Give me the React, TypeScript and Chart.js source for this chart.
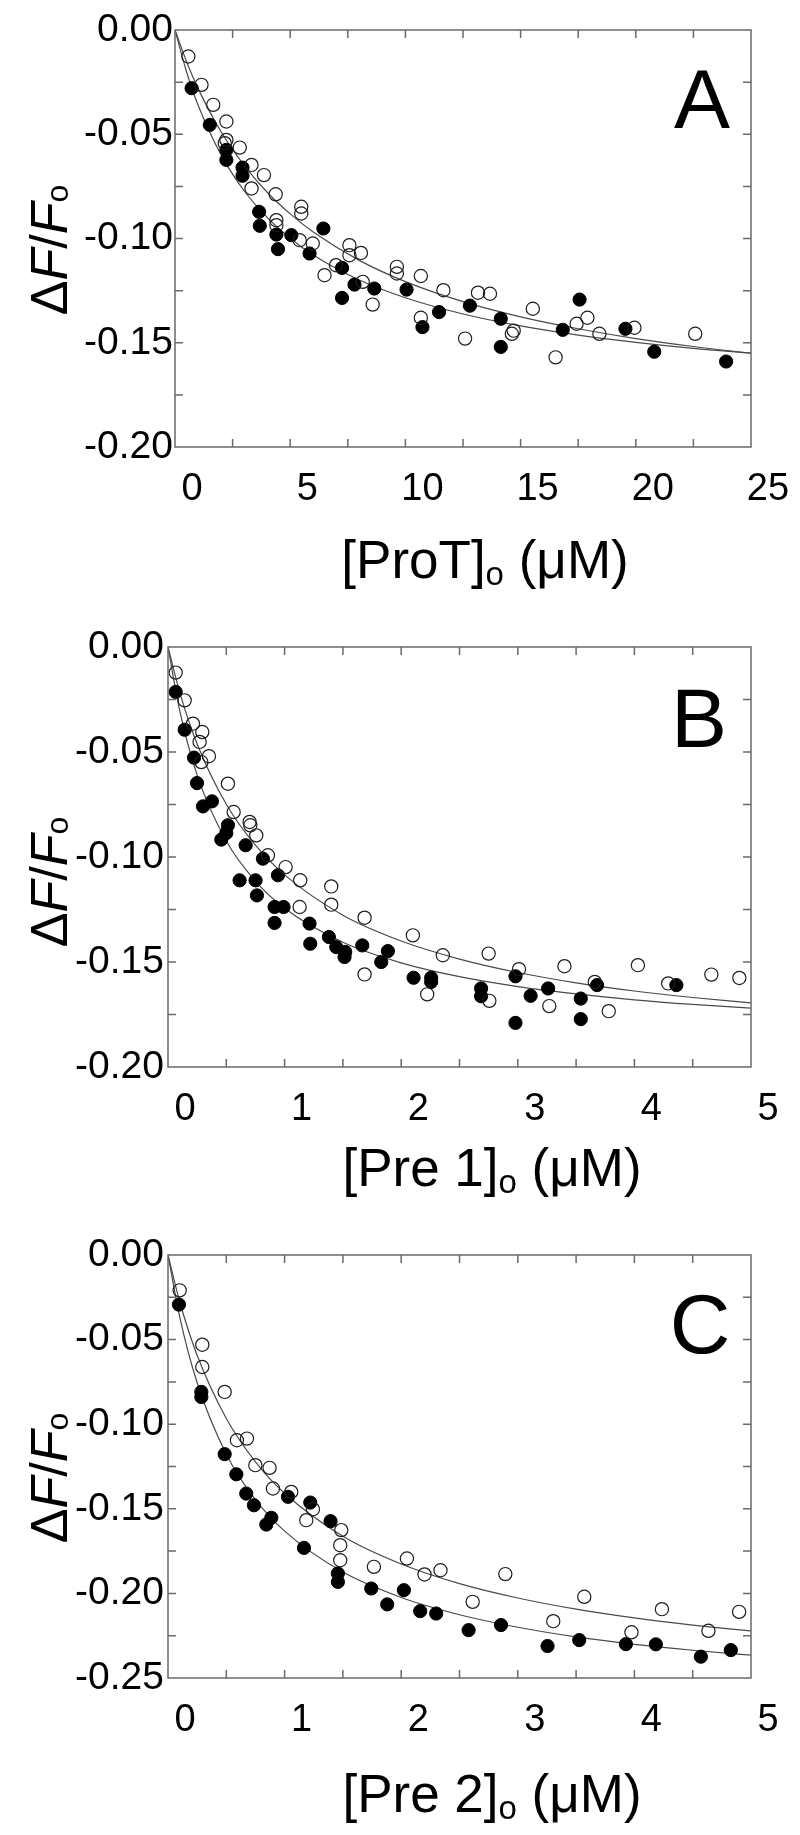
import { useEffect, useRef } from "react";
import { Chart, registerables } from "chart.js";

Chart.register(...registerables);

// ---------------- Panel A : [ProT]o ----------------
const proTOpenX = [0.58, 1.15, 1.66, 2.16, 2.23, 2.23, 2.81, 3.32, 3.32, 3.86, 4.37, 4.4, 4.4, 5.41, 5.48, 5.48, 5.98, 6.49, 6.99, 7.57, 7.57, 8.07, 8.15, 8.58, 9.63, 9.63, 10.67, 10.67, 11.65, 12.59, 13.15, 13.67, 14.62, 14.7, 15.53, 16.52, 17.43, 17.9, 18.42, 19.94, 22.58];
const proTOpenY = [-0.0127, -0.0263, -0.0359, -0.0543, -0.0439, -0.0527, -0.0564, -0.0647, -0.076, -0.0696, -0.0788, -0.0912, -0.0936, -0.1008, -0.0848, -0.088, -0.1024, -0.1176, -0.1128, -0.1032, -0.108, -0.1069, -0.1208, -0.1317, -0.1136, -0.1168, -0.118, -0.138, -0.1248, -0.148, -0.126, -0.1265, -0.1457, -0.1442, -0.1337, -0.157, -0.1409, -0.138, -0.1457, -0.1428, -0.1457];
const proTFilledX = [0.72, 1.51, 2.23, 2.23, 2.93, 2.93, 3.65, 3.68, 4.4, 4.47, 5.05, 5.84, 6.44, 7.25, 7.25, 7.79, 8.65, 10.05, 10.74, 11.46, 12.8, 14.14, 14.14, 16.83, 17.56, 19.55, 20.8, 23.92];
const proTFilledY = [-0.0279, -0.0455, -0.0575, -0.0623, -0.066, -0.0699, -0.0872, -0.0939, -0.0981, -0.1051, -0.0984, -0.1072, -0.0952, -0.1141, -0.1285, -0.1221, -0.124, -0.1245, -0.1425, -0.1353, -0.1322, -0.1385, -0.152, -0.1438, -0.1293, -0.1433, -0.1543, -0.159];
const proTFitX = [0, 0.5, 1, 2, 3, 4, 5, 6, 8, 10, 12.5, 15, 17.5, 20, 22.5, 25];
const proTFitOpenY = [0, -0.0151, -0.028, -0.0488, -0.0649, -0.0778, -0.0882, -0.0969, -0.1105, -0.1207, -0.1303, -0.1376, -0.1433, -0.148, -0.1518, -0.155];
const proTFitFilledY = [0, -0.02, -0.036, -0.0599, -0.0771, -0.0899, -0.0999, -0.1079, -0.1199, -0.1284, -0.1362, -0.1419, -0.1463, -0.1498, -0.1527, -0.155];

// ---------------- Panel B : [Pre 1]o ----------------
const pre1OpenX = [0.066, 0.143, 0.214, 0.271, 0.286, 0.294, 0.351, 0.514, 0.563, 0.7, 0.706, 0.757, 0.857, 1.009, 1.129, 1.134, 1.4, 1.4, 1.686, 1.686, 2.1, 2.223, 2.357, 2.75, 2.756, 3.01, 3.27, 3.4, 3.66, 3.78, 4.03, 4.29, 4.66, 4.9];
const pre1OpenY = [-0.0122, -0.0254, -0.0365, -0.0452, -0.0548, -0.0405, -0.052, -0.0651, -0.0786, -0.0833, -0.0849, -0.0897, -0.0992, -0.1048, -0.1238, -0.1111, -0.114, -0.1227, -0.1289, -0.1559, -0.1373, -0.1654, -0.1468, -0.146, -0.1685, -0.1534, -0.171, -0.152, -0.1595, -0.1734, -0.1515, -0.1602, -0.156, -0.1576];
const pre1FilledX = [0.066, 0.143, 0.223, 0.249, 0.3, 0.377, 0.457, 0.5, 0.514, 0.614, 0.666, 0.751, 0.763, 0.814, 0.914, 0.914, 0.943, 0.991, 1.214, 1.22, 1.38, 1.443, 1.514, 1.52, 1.666, 1.829, 1.886, 2.106, 2.257, 2.257, 2.685, 2.685, 2.98, 2.98, 3.11, 3.26, 3.54, 3.54, 3.68, 4.36];
const pre1FilledY = [-0.0214, -0.0394, -0.0527, -0.0648, -0.0759, -0.0735, -0.0917, -0.0886, -0.0849, -0.1111, -0.0944, -0.1111, -0.1183, -0.1008, -0.1238, -0.1314, -0.1087, -0.1238, -0.1317, -0.1413, -0.1381, -0.1429, -0.1476, -0.1452, -0.1421, -0.15, -0.1448, -0.1575, -0.1575, -0.1595, -0.1626, -0.1663, -0.1568, -0.179, -0.1661, -0.1626, -0.1674, -0.1772, -0.161, -0.161];
const pre1FitX = [0, 0.1, 0.25, 0.5, 0.75, 1, 1.5, 2, 2.5, 3, 3.5, 4, 4.5, 5];
const pre1FitOpenY = [0, -0.0215, -0.0462, -0.0749, -0.0944, -0.1085, -0.1277, -0.14, -0.1486, -0.155, -0.1599, -0.1638, -0.1669, -0.1695];
const pre1FitFilledY = [0, -0.0302, -0.061, -0.0924, -0.1115, -0.1244, -0.1406, -0.1504, -0.157, -0.1617, -0.1652, -0.168, -0.1702, -0.172];

// ---------------- Panel C : [Pre 2]o ----------------
const pre2OpenX = [0.1, 0.294, 0.294, 0.486, 0.591, 0.677, 0.749, 0.871, 0.9, 1.057, 1.186, 1.243, 1.477, 1.477, 1.486, 1.766, 2.049, 2.2, 2.337, 2.613, 2.893, 3.304, 3.57, 3.975, 4.236, 4.635, 4.898];
const pre2OpenY = [-0.0209, -0.053, -0.0662, -0.0809, -0.1095, -0.1085, -0.1242, -0.1258, -0.138, -0.14, -0.1567, -0.1502, -0.1715, -0.1804, -0.1626, -0.1843, -0.1794, -0.1888, -0.1863, -0.205, -0.1886, -0.2164, -0.202, -0.223, -0.2093, -0.2221, -0.2109];
const pre2FilledX = [0.094, 0.286, 0.286, 0.486, 0.586, 0.671, 0.737, 0.843, 0.886, 1.029, 1.166, 1.22, 1.394, 1.457, 1.457, 1.743, 1.88, 2.023, 2.163, 2.3, 2.578, 2.856, 3.255, 3.527, 3.927, 4.184, 4.57, 4.827];
const pre2FilledY = [-0.0293, -0.0809, -0.0839, -0.1177, -0.1296, -0.141, -0.1479, -0.1593, -0.1553, -0.1429, -0.1731, -0.1463, -0.1573, -0.1882, -0.1932, -0.1971, -0.2065, -0.1981, -0.2105, -0.2119, -0.2217, -0.2187, -0.2311, -0.2276, -0.23, -0.2301, -0.2374, -0.2335];
const pre2FitX = [0, 0.1, 0.25, 0.5, 0.75, 1, 1.5, 2, 2.5, 3, 3.5, 4, 4.5, 5];
const pre2FitOpenY = [0, -0.0275, -0.0593, -0.0966, -0.1222, -0.1408, -0.1662, -0.1826, -0.1942, -0.2027, -0.2093, -0.2145, -0.2187, -0.2222];
const pre2FitFilledY = [0, -0.0364, -0.0755, -0.1177, -0.1446, -0.1632, -0.1874, -0.2024, -0.2126, -0.22, -0.2257, -0.2301, -0.2336, -0.2365];

// ---------------- Text ----------------
const yTitleParts = [
  { t: "\u0394" },
  { t: "F", it: true },
  { t: "/" },
  { t: "F", it: true },
  { t: "o", sub: true },
];
const xTitleA = [{ t: "[ProT]" }, { t: "o", sub: true }, { t: " (\u03bcM)" }];
const xTitleB = [{ t: "[Pre 1]" }, { t: "o", sub: true }, { t: " (\u03bcM)" }];
const xTitleC = [{ t: "[Pre 2]" }, { t: "o", sub: true }, { t: " (\u03bcM)" }];

const FONT = "'Liberation Sans', Arial, Helvetica, sans-serif";

type Part = { t: string; it?: boolean; sub?: boolean };

function zip(xs: number[], ys: number[]) {
  return xs.map((x, i) => ({ x, y: ys[i] }));
}

function drawRich(ctx: CanvasRenderingContext2D, parts: Part[], size: number, subDy: number, cx: number, by: number) {
  const fontFor = (p: Part) => `${p.it ? "italic " : ""}${p.sub ? Math.round(size * 0.62) : size}px ${FONT}`;
  let total = 0;
  const widths = parts.map((p) => {
    ctx.font = fontFor(p);
    const w = ctx.measureText(p.t).width;
    total += w;
    return w;
  });
  let x = cx - total / 2;
  ctx.textAlign = "left";
  ctx.textBaseline = "alphabetic";
  parts.forEach((p, i) => {
    ctx.font = fontFor(p);
    ctx.fillText(p.t, x, by + (p.sub ? subDy : 0));
    x += widths[i];
  });
}

const framePlugin = {
  id: "frame",
  afterDraw(chart: any, _args: any, opts: any) {
    const { ctx, chartArea } = chart;
    const { left, right, top, bottom } = chartArea;
    const xs = chart.scales.x;
    const ys = chart.scales.y;
    ctx.save();
    ctx.strokeStyle = "#6a6a6a";
    ctx.lineWidth = 1.5;
    ctx.strokeRect(left, top, right - left, bottom - top);
    const tl = 8;
    ctx.beginPath();
    xs.ticks.forEach((t: any) => {
      const px = xs.getPixelForValue(t.value);
      if (px <= left + 1 || px >= right - 1) return;
      ctx.moveTo(px, bottom);
      ctx.lineTo(px, bottom - tl);
      ctx.moveTo(px, top);
      ctx.lineTo(px, top + tl);
    });
    ys.ticks.forEach((t: any) => {
      const py = ys.getPixelForValue(t.value);
      if (py <= top + 1 || py >= bottom - 1) return;
      ctx.moveTo(left, py);
      ctx.lineTo(left + tl, py);
      ctx.moveTo(right, py);
      ctx.lineTo(right - tl, py);
    });
    ctx.stroke();

    ctx.fillStyle = "#000";
    // panel letter
    ctx.font = `84px ${FONT}`;
    ctx.textAlign = "center";
    ctx.textBaseline = "alphabetic";
    ctx.fillText(opts.letter, opts.letterX, opts.letterY);
    // x title
    drawRich(ctx, opts.xTitle, 53, 7, opts.xTitleX, opts.xTitleY);
    // y title (rotated)
    ctx.save();
    ctx.translate(opts.yTitleX, opts.yTitleY);
    ctx.rotate(-Math.PI / 2);
    drawRich(ctx, yTitleParts, 52, 1, 0, 0);
    ctx.restore();
    ctx.restore();
  },
};

type Spec = {
  top: number;
  h: number;
  left: number;
  right: number;
  plotTop: number;
  bottom: number;
  xMax: number;
  xStep: number;
  xLabelStep: number;
  yMin: number;
  yPad: number;
  openX: number[];
  openY: number[];
  filledX: number[];
  filledY: number[];
  fitX: number[];
  fitOpenY: number[];
  fitFilledY: number[];
  letter: string;
  letterX: number;
  letterY: number;
  xTitle: Part[];
  xTitleX: number;
  xTitleY: number;
  yTitleX: number;
  yTitleY: number;
};

const specs: Spec[] = [
  {
    top: 0, h: 610, left: 175, right: 49, plotTop: 30, bottom: 163,
    xMax: 25, xStep: 2.5, xLabelStep: 5, yMin: -0.2, yPad: 2,
    openX: proTOpenX, openY: proTOpenY, filledX: proTFilledX, filledY: proTFilledY,
    fitX: proTFitX, fitOpenY: proTFitOpenY, fitFilledY: proTFitFilledY,
    letter: "A", letterX: 702, letterY: 128,
    xTitle: xTitleA, xTitleX: 485, xTitleY: 578,
    yTitleX: 67, yTitleY: 250,
  },
  {
    top: 610, h: 610, left: 168, right: 49, plotTop: 37, bottom: 153,
    xMax: 5, xStep: 0.5, xLabelStep: 1, yMin: -0.2, yPad: 4,
    openX: pre1OpenX, openY: pre1OpenY, filledX: pre1FilledX, filledY: pre1FilledY,
    fitX: pre1FitX, fitOpenY: pre1FitOpenY, fitFilledY: pre1FitFilledY,
    letter: "B", letterX: 699, letterY: 137,
    xTitle: xTitleB, xTitleX: 492, xTitleY: 576,
    yTitleX: 67, yTitleY: 272,
  },
  {
    top: 1220, h: 615, left: 168, right: 49, plotTop: 35, bottom: 157,
    xMax: 5, xStep: 0.5, xLabelStep: 1, yMin: -0.25, yPad: 4,
    openX: pre2OpenX, openY: pre2OpenY, filledX: pre2FilledX, filledY: pre2FilledY,
    fitX: pre2FitX, fitOpenY: pre2FitOpenY, fitFilledY: pre2FitFilledY,
    letter: "C", letterX: 700, letterY: 133,
    xTitle: xTitleC, xTitleX: 492, xTitleY: 592,
    yTitleX: 67, yTitleY: 258,
  },
];

function buildConfig(s: Spec): any {
  return {
    type: "scatter",
    data: {
      datasets: [
        {
          data: zip(s.openX, s.openY),
          pointRadius: 6.6,
          pointBackgroundColor: "rgba(255,255,255,0)",
          pointBorderColor: "#1e1e1e",
          pointBorderWidth: 1.2,
          showLine: false,
          order: 1,
        },
        {
          data: zip(s.filledX, s.filledY),
          pointRadius: 6.6,
          pointBackgroundColor: "#000",
          pointBorderColor: "#000",
          pointBorderWidth: 1,
          showLine: false,
          order: 2,
        },
        {
          data: zip(s.fitX, s.fitOpenY),
          showLine: true,
          pointRadius: 0,
          borderColor: "#4a4a4a",
          borderWidth: 1.2,
          cubicInterpolationMode: "monotone",
          order: 3,
        },
        {
          data: zip(s.fitX, s.fitFilledY),
          showLine: true,
          pointRadius: 0,
          borderColor: "#4a4a4a",
          borderWidth: 1.2,
          cubicInterpolationMode: "monotone",
          order: 4,
        },
      ],
    },
    options: {
      responsive: false,
      animation: false,
      devicePixelRatio: 1,
      events: [],
      layout: { padding: { left: 0, right: s.right, top: s.plotTop, bottom: 0 } },
      plugins: {
        legend: { display: false },
        tooltip: { enabled: false },
        frame: {
          letter: s.letter, letterX: s.letterX, letterY: s.letterY,
          xTitle: s.xTitle, xTitleX: s.xTitleX, xTitleY: s.xTitleY,
          yTitleX: s.yTitleX, yTitleY: s.yTitleY,
        },
      },
      scales: {
        x: {
          type: "linear",
          min: 0,
          max: s.xMax,
          grid: { display: false, drawTicks: false },
          border: { display: false },
          ticks: {
            stepSize: s.xStep,
            autoSkip: false,
            maxRotation: 0,
            minRotation: 0,
            labelOffset: 17,
            padding: 20,
            color: "#000",
            font: { family: FONT, size: 38 },
            callback: (v: number) => {
              const r = Math.round(v * 1000) / 1000;
              const k = r / s.xLabelStep;
              return Math.abs(k - Math.round(k)) < 1e-6 ? String(r) : "";
            },
          },
          afterFit: (sc: any) => { sc.height = s.bottom; },
        },
        y: {
          type: "linear",
          min: s.yMin,
          max: 0,
          grid: { display: false, drawTicks: false },
          border: { display: false },
          ticks: {
            stepSize: 0.025,
            autoSkip: false,
            padding: s.yPad,
            color: "#000",
            font: { family: FONT, size: 39 },
            callback: (v: number) => {
              const r = Math.round(v * 1000) / 1000;
              const k = r / 0.05;
              if (Math.abs(k - Math.round(k)) > 1e-6) return "";
              return r === 0 ? "0.00" : r.toFixed(2);
            },
          },
          afterFit: (sc: any) => { sc.width = s.left; },
        },
      },
    },
    plugins: [framePlugin],
  };
}

function Panel({ spec }: { spec: Spec }) {
  const ref = useRef<HTMLCanvasElement>(null);
  useEffect(() => {
    const chart = new Chart(ref.current as HTMLCanvasElement, buildConfig(spec));
    return () => chart.destroy();
  }, [spec]);
  return (
    <canvas
      ref={ref}
      width={800}
      height={spec.h}
      style={{ position: "absolute", left: 0, top: spec.top, width: 800, height: spec.h, display: "block" }}
    />
  );
}

export default function App() {
  return (
    <div style={{ position: "absolute", left: 0, top: 0, width: 800, height: 1835, background: "#fff" }}>
      {specs.map((s) => (
        <Panel key={s.letter} spec={s} />
      ))}
    </div>
  );
}
